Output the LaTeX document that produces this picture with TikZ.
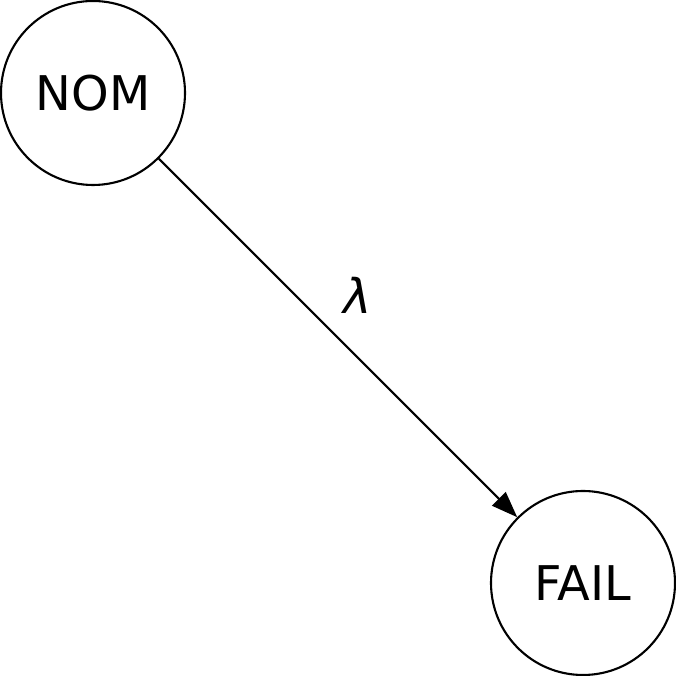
\documentclass[tikz,border=0pt]{standalone}
\usepackage{fontspec}
\setmainfont{DejaVu Sans}
\usetikzlibrary{positioning,arrows.meta}

\begin{document}
\begin{tikzpicture}[state/.style={circle, draw, line width=0.6pt, minimum size=1.84cm, inner sep=0pt, font=\fontsize{13.6}{16}\selectfont}, trans/.style={-{Triangle[length=2.6mm,width=1.9mm]}, line width=0.6pt}]

\useasboundingbox (0,0) rectangle (6.76,6.76);

% STATES

\node [state] (nom) at (0.93,5.83) {NOM};

\node [state, on grid, below right=4.9cm and 4.9cm of nom] (fail) {FAIL};

% TRANSITIONS

\draw [trans] (nom) -- node [pos=0.46, xshift=0.34cm, yshift=0.28cm, font=\fontsize{13.6}{16}\selectfont\itshape] (lambda) {λ} (fail);

\end{tikzpicture}
\end{document}
